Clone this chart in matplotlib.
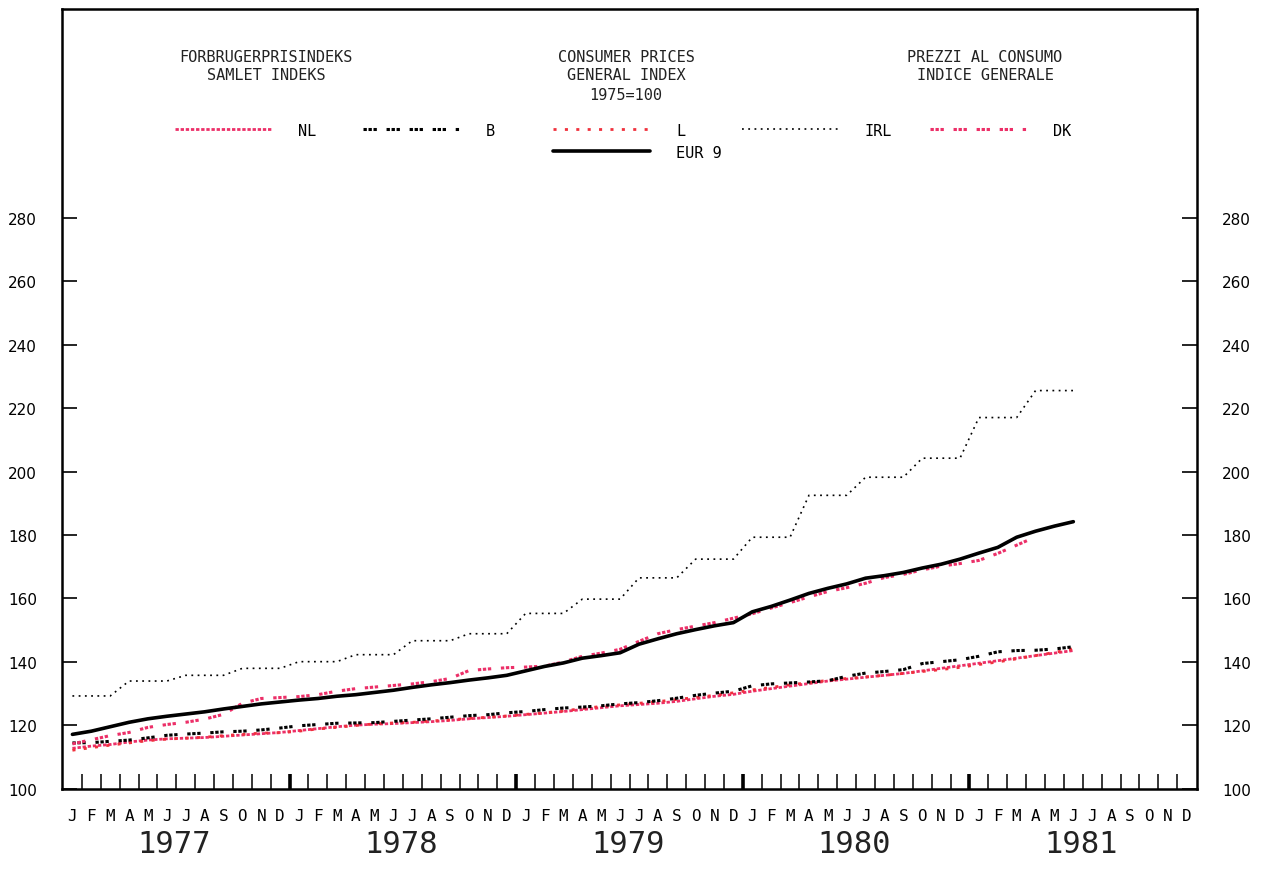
import matplotlib
matplotlib.use("Agg")
import matplotlib.pyplot as plt
from matplotlib.legend import Legend
import numpy as np

plt.rcParams["lines.scale_dashes"] = False

month_labels = ["J", "F", "M", "A", "M", "J", "J", "A", "S", "O", "N", "D"] * 5
year_labels = ["1977", "1978", "1979", "1980", "1981"]

# monthly index values, Jan 1977 .. Jun 1981 (1975=100)
eur9 = [117.2, 118.2, 119.6, 121.0, 122.1, 122.9, 123.6, 124.3, 125.2, 126.0, 126.8, 127.4,
        128.0, 128.5, 129.2, 129.7, 130.4, 131.1, 132.0, 132.8, 133.5, 134.3, 135.0, 135.8,
        137.2, 138.6, 139.7, 141.2, 142.0, 142.9, 145.6, 147.3, 148.9, 150.2, 151.4, 152.4,
        155.8, 157.5, 159.5, 161.6, 163.2, 164.6, 166.4, 167.2, 168.2, 169.6, 170.8, 172.4,
        174.3, 176.1, 179.3, 181.2, 182.8, 184.2]
nl = [112.8, 113.5, 114.0, 114.8, 115.4, 115.8, 116.0, 116.2, 116.6, 117.0, 117.4, 117.8,
      118.4, 119.0, 119.6, 120.1, 120.4, 120.6, 120.9, 121.2, 121.6, 122.1, 122.5, 122.9,
      123.4, 123.9, 124.4, 125.0, 125.6, 126.2, 126.6, 127.0, 127.6, 128.4, 129.2, 129.8,
      130.8, 131.6, 132.4, 133.2, 134.0, 134.6, 135.2, 135.8, 136.4, 137.2, 138.0, 138.8,
      139.6, 140.4, 141.2, 142.0, 142.8, 143.6]
bel = [114.5, 114.6, 115.0, 115.4, 116.1, 116.9, 117.3, 117.6, 118.0, 118.2, 118.6, 119.2,
       119.9, 120.3, 120.7, 120.8, 120.9, 121.3, 121.7, 122.1, 122.6, 123.1, 123.4, 124.0,
       124.4, 125.0, 125.5, 125.8, 126.2, 126.8, 127.2, 127.8, 128.6, 129.5, 130.2, 130.8,
       132.5, 133.1, 133.4, 133.7, 134.1, 135.5, 136.5, 137.0, 137.6, 139.5, 140.1, 140.7,
       141.8, 143.2, 143.6, 143.7, 144.1, 144.8]
lux = [112.2, 113.0, 113.8, 114.5, 115.2, 115.7, 116.0, 116.3, 116.8, 117.2, 117.6, 117.7,
       118.2, 118.9, 119.4, 120.0, 120.5, 120.8, 121.0, 121.4, 121.8, 122.2, 122.6, 123.0,
       123.5, 124.0, 124.6, 125.3, 126.0, 126.5, 127.0, 127.5, 128.2, 128.8, 129.5, 130.3,
       131.2, 132.0, 132.8, 133.5, 134.2, 134.8, 135.3, 135.8, 136.4, 137.0, 137.6, 138.3,
       139.2, 140.0, 141.0, 142.0, 143.0, 144.2]
irl = [129.3, 129.3, 129.3, 134.0, 134.0, 134.0, 135.8, 135.8, 135.8, 138.0, 138.0, 138.0,
       140.1, 140.1, 140.1, 142.3, 142.3, 142.3, 146.7, 146.7, 146.7, 148.9, 148.9, 148.9,
       155.3, 155.3, 155.3, 159.8, 159.8, 159.8, 166.5, 166.5, 166.5, 172.4, 172.4, 172.4,
       179.3, 179.3, 179.3, 192.5, 192.5, 192.5, 198.2, 198.2, 198.2, 204.2, 204.2, 204.2,
       217.0, 217.0, 217.0, 225.5, 225.5, 225.5]
dk = [114.2, 115.5, 116.8, 117.8, 119.4, 120.3, 121.0, 122.0, 123.5, 127.0, 128.5, 128.8,
      129.1, 129.7, 130.8, 131.6, 132.1, 132.6, 133.1, 133.8, 134.8, 137.3, 137.8, 138.2,
      138.4, 138.7, 140.0, 141.8, 142.8, 144.0, 146.5, 148.9, 150.2, 151.3, 152.4, 153.8,
      155.2, 157.0, 158.7, 160.5, 162.2, 163.4, 164.8, 166.6, 167.6, 169.0, 170.2, 171.0,
      172.0, 174.2, 176.8, 179.4]

mono = "DejaVu Sans Mono"
pink = "#ec2f68"
red = "#f0303c"

fig = plt.figure(figsize=(12.71, 8.70), dpi=100)
fig.set_facecolor("white")
ax = fig.add_axes([0.0488, 0.0920, 0.8930, 0.8965])

l_irl, = ax.plot(np.arange(len(irl)), irl, color="black", lw=1.2,
                 linestyle=(0, (1.3, 3.2)), label="IRL")
l_nl, = ax.plot(np.arange(len(nl)), nl, color=pink, lw=2.0,
                linestyle=(0, (2.4, 1.3)), label="NL")
l_lux, = ax.plot(np.arange(len(lux)), lux, color=red, lw=2.0,
                 linestyle=(0, (2.2, 6.0)), label="L")
l_b, = ax.plot(np.arange(len(bel)), bel, color="black", lw=2.2,
               linestyle=(0, (2.4, 1.2, 2.4, 1.2, 2.4, 7.0)), label="B")
l_dk, = ax.plot(np.arange(len(dk)), dk, color=pink, lw=2.2,
                linestyle=(0, (2.4, 1.2, 2.4, 1.2, 2.4, 7.0)), label="DK")
l_eur, = ax.plot(np.arange(len(eur9)), eur9, color="black", lw=2.6,
                 solid_capstyle="round", label="EUR 9")

ax.set_xlim(-0.55, 59.55)
ax.set_ylim(100, 345.7)

for side in ["left", "right", "bottom", "top"]:
    ax.spines[side].set_linewidth(1.8)

# month boundary ticks, thicker at year boundaries
n_months = len(month_labels)
bounds = np.arange(n_months - 1) + 0.5
year_bounds = bounds[11::12]
ax.set_xticks(year_bounds)
ax.set_xticks(bounds, minor=True)
ax.tick_params(axis="x", which="both", direction="in", length=11, labelbottom=False)
ax.tick_params(axis="x", which="major", width=2.6)
ax.tick_params(axis="x", which="minor", width=1.1)

sec = ax.secondary_xaxis("bottom")
sec.set_xticks(np.arange(n_months), month_labels)
sec.tick_params(length=0, pad=14)
sec.spines["bottom"].set_visible(False)
for t in sec.get_xticklabels():
    t.set_fontfamily(mono)
    t.set_fontsize(11.5)

for i, yr in enumerate(year_labels):
    ax.text(5.4 + 12 * i, -0.0705, yr, transform=ax.get_xaxis_transform(),
            ha="center", va="center", fontsize=22, family=mono, color="#222222")

ax.set_yticks(np.arange(100, 281, 20))
ax.tick_params(axis="y", direction="in", length=11, width=1.2, pad=18,
               labelsize=11, left=True, right=True, labelleft=True, labelright=True)

# header texts
hdr = dict(ha="center", va="center", fontsize=11, family=mono, color="#222222")
fig.text(266 / 1271, 1 - 57 / 870, "FORBRUGERPRISINDEKS", **hdr)
fig.text(266 / 1271, 1 - 75 / 870, "SAMLET INDEKS", **hdr)
fig.text(626 / 1271, 1 - 57 / 870, "CONSUMER PRICES", **hdr)
fig.text(626 / 1271, 1 - 75 / 870, "GENERAL INDEX", **hdr)
fig.text(626 / 1271, 1 - 95 / 870, "1975=100", **hdr)
fig.text(985 / 1271, 1 - 57 / 870, "PREZZI AL CONSUMO", **hdr)
fig.text(985 / 1271, 1 - 75 / 870, "INDICE GENERALE", **hdr)

# one legend per series, laid out like the original key
legend_pos = [(l_nl, 175, 131), (l_b, 363, 131), (l_lux, 553, 131),
              (l_irl, 742, 131), (l_dk, 930, 131), (l_eur, 553, 153)]
for line, px, py in legend_pos:
    leg = Legend(ax, [line], [line.get_label()], loc="center left",
                 bbox_to_anchor=(px / 1271, 1 - py / 870),
                 bbox_transform=fig.transFigure, frameon=False,
                 borderpad=0, borderaxespad=0, handlelength=6.35,
                 handletextpad=1.7, prop={"family": mono, "size": 11})
    ax.add_artist(leg)

fig.savefig("out.png", dpi=100, facecolor="white")
